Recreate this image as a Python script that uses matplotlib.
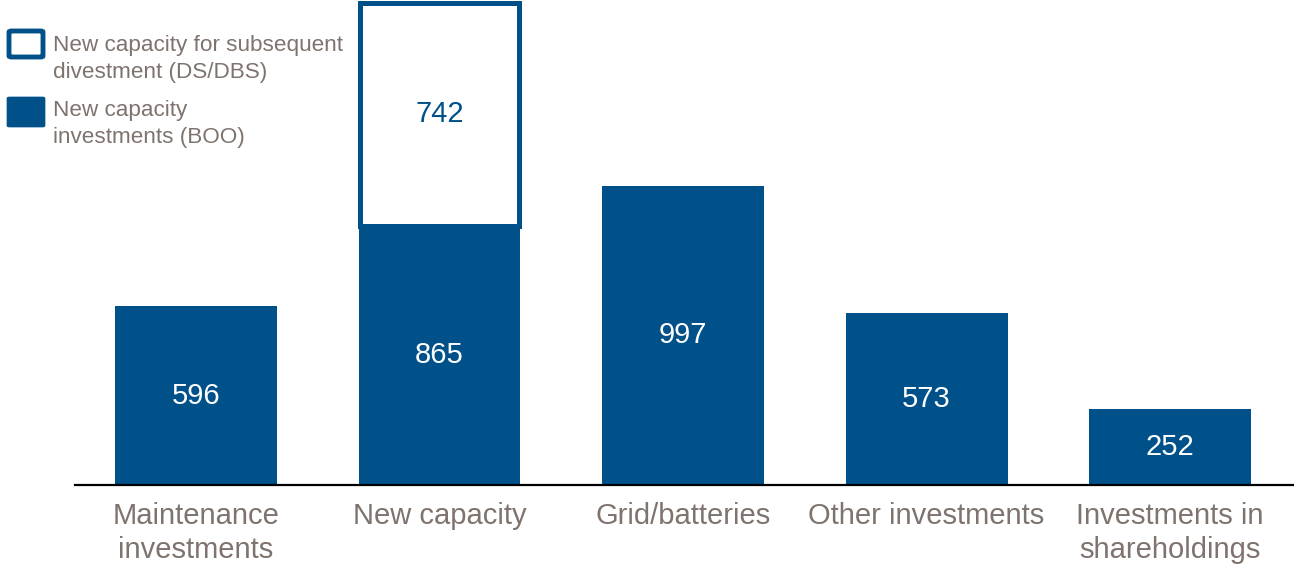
import matplotlib
matplotlib.use("Agg")
import matplotlib.pyplot as plt
from matplotlib.patches import FancyBboxPatch

plt.rcParams['font.family'] = ['Liberation Sans', 'DejaVu Sans']

categories = ["Maintenance\ninvestments", "New capacity", "Grid/batteries",
              "Other investments", "Investments in\nshareholdings"]
boo_values = [596, 865, 997, 573, 252]
dsdbs_values = [0, 742, 0, 0, 0]

blue = "#00518A"
grey = "#7F736E"

fig = plt.figure(figsize=(12.94, 5.66), dpi=100)
ax = fig.add_axes([75 / 1294, 81 / 566, 1 - 75 / 1294, 485 / 566])

x = list(range(len(categories)))
w = 0.665
ax.bar(x, boo_values, width=w, color=blue, zorder=2)
ax.bar([x[1]], [dsdbs_values[1]], width=w - 0.012, bottom=[boo_values[1]],
       color="white", edgecolor=blue, linewidth=3.6, zorder=2)

for i, v in enumerate(boo_values):
    ax.text(i, v / 2, str(v), ha="center", va="center", color="white", fontsize=21)
ax.text(1, boo_values[1] + dsdbs_values[1] / 2, str(dsdbs_values[1]),
        ha="center", va="center", color=blue, fontsize=21)

ax.set_xlim(-0.497, 4.509)
ax.set_ylim(0, 1617)
ax.set_xticks(x)
ax.set_xticklabels(categories, fontsize=21, color=grey, linespacing=1.3)
ax.tick_params(axis="x", length=0, pad=12)
ax.set_yticks([])
for s in ["top", "right", "left"]:
    ax.spines[s].set_visible(False)
ax.spines["bottom"].set_linewidth(1.6)
ax.spines["bottom"].set_zorder(3)

# legend
def fx(px):
    return px / 1294

def fy(py):
    return 1 - py / 566

fig.patches.append(FancyBboxPatch((fx(9), fy(57)), fx(34), 26 / 566,
                                  boxstyle="round,pad=0,rounding_size=0.002",
                                  facecolor="white", edgecolor=blue, linewidth=3.5,
                                  transform=fig.transFigure))
fig.patches.append(FancyBboxPatch((fx(7), fy(127)), fx(38), 30 / 566,
                                  boxstyle="round,pad=0,rounding_size=0.002",
                                  facecolor=blue, edgecolor=blue, linewidth=0.5,
                                  transform=fig.transFigure))
fig.text(fx(53), fy(59), "New capacity for subsequent\ndivestment (DS/DBS)",
         ha="left", va="center", fontsize=16.2, color=grey, linespacing=1.4)
fig.text(fx(53), fy(124), "New capacity\ninvestments (BOO)",
         ha="left", va="center", fontsize=16.2, color=grey, linespacing=1.4)

fig.savefig("out.png", dpi=100)
